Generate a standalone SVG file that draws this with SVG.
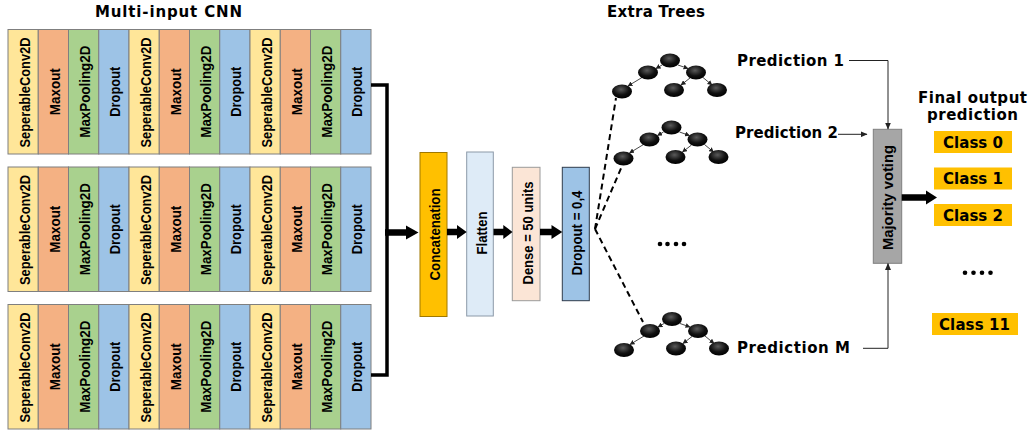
<svg xmlns="http://www.w3.org/2000/svg" width="1033" height="436" viewBox="0 0 1033 436">
<style>
.y{fill:#FFE699;stroke:#7F7F7F;stroke-width:1}
.o{fill:#F4B183;stroke:#7F7F7F;stroke-width:1}
.g{fill:#A9D18E;stroke:#7F7F7F;stroke-width:1}
.b{fill:#9DC3E6;stroke:#7F7F7F;stroke-width:1}
.lbl{font-family:"Liberation Sans",Arial,sans-serif;font-weight:bold;font-size:15.5px;fill:#000;text-anchor:middle}
.hd{font-family:"DejaVu Sans",Verdana,sans-serif;font-weight:bold;font-size:15px;fill:#000}
.cls{fill:#FFC000}
.thin{fill:none;stroke:#222;stroke-width:1}
.dash{fill:none;stroke:#000;stroke-width:2;stroke-dasharray:6 4}
.node{fill:url(#ng)}
.tedge{fill:none;stroke:#333;stroke-width:0.9;marker-end:url(#ta)}
.dot{fill:#000}
</style>
<defs>
<radialGradient id="ng" cx="45%" cy="35%" r="65%">
<stop offset="0" stop-color="#5a5a5a"/>
<stop offset="0.6" stop-color="#111"/>
<stop offset="1" stop-color="#000"/>
</radialGradient>
<marker id="ta" markerUnits="userSpaceOnUse" markerWidth="5" markerHeight="5" refX="4.5" refY="2.5" orient="auto">
<path d="M0,0 L5,2.5 L0,5 z" fill="#222"/>
</marker>
<marker id="pa" markerUnits="userSpaceOnUse" markerWidth="7" markerHeight="6" refX="6.5" refY="3" orient="auto">
<path d="M0,0 L7,3 L0,6 z" fill="#222"/>
</marker>
<g id="tree">
<path class="tedge" d="M-8,4.5 L-14,8"/>
<path class="tedge" d="M8,4.5 L18,8"/>
<path class="tedge" d="M-28,17 L-42,25.5"/>
<path class="tedge" d="M20,17.5 L11,24.5"/>
<path class="tedge" d="M33,17 L42,24.5"/>
<ellipse class="node" cx="0" cy="0" rx="10" ry="7"/>
<ellipse class="node" cx="-22" cy="12" rx="10" ry="7"/>
<ellipse class="node" cx="26" cy="12" rx="10" ry="7"/>
<ellipse class="node" cx="-48" cy="31" rx="10" ry="7"/>
<ellipse class="node" cx="4" cy="29.5" rx="10" ry="7"/>
<ellipse class="node" cx="47" cy="29.5" rx="10" ry="7"/>
</g>
</defs>
<rect width="1033" height="436" fill="#fff"/>

<text class="hd" x="168.5" y="17" text-anchor="middle" textLength="147">Multi-input CNN</text>
<text class="hd" x="656" y="17" text-anchor="middle" textLength="98">Extra Trees</text>
<text class="hd" x="972.5" y="102.5" text-anchor="middle" textLength="109">Final output</text>
<text class="hd" x="972.5" y="120" text-anchor="middle" textLength="91">prediction</text>

<g id="cnn1">
<rect class="y" x="8" y="29.5" width="30.25" height="124.5"/>
<rect class="o" x="38.25" y="29.5" width="30.25" height="124.5"/>
<rect class="g" x="68.5" y="29.5" width="30.25" height="124.5"/>
<rect class="b" x="98.75" y="29.5" width="30.25" height="124.5"/>
<rect class="y" x="129" y="29.5" width="30.25" height="124.5"/>
<rect class="o" x="159.25" y="29.5" width="30.25" height="124.5"/>
<rect class="g" x="189.5" y="29.5" width="30.25" height="124.5"/>
<rect class="b" x="219.75" y="29.5" width="30.25" height="124.5"/>
<rect class="y" x="250" y="29.5" width="30.25" height="124.5"/>
<rect class="o" x="280.25" y="29.5" width="30.25" height="124.5"/>
<rect class="g" x="310.5" y="29.5" width="30.25" height="124.5"/>
<rect class="b" x="340.75" y="29.5" width="30.25" height="124.5"/>
<text class="lbl" transform="translate(29.6,92.5) rotate(-90)" textLength="110" lengthAdjust="spacingAndGlyphs">SeperableConv2D</text>
<text class="lbl" transform="translate(59.9,91.7) rotate(-90)" textLength="47" lengthAdjust="spacingAndGlyphs">Maxout</text>
<text class="lbl" transform="translate(90.1,91.7) rotate(-90)" textLength="92" lengthAdjust="spacingAndGlyphs">MaxPooling2D</text>
<text class="lbl" transform="translate(120.4,91.7) rotate(-90)" textLength="50" lengthAdjust="spacingAndGlyphs">Dropout</text>
<text class="lbl" transform="translate(150.6,92.5) rotate(-90)" textLength="110" lengthAdjust="spacingAndGlyphs">SeperableConv2D</text>
<text class="lbl" transform="translate(180.9,91.7) rotate(-90)" textLength="47" lengthAdjust="spacingAndGlyphs">Maxout</text>
<text class="lbl" transform="translate(211.1,91.7) rotate(-90)" textLength="92" lengthAdjust="spacingAndGlyphs">MaxPooling2D</text>
<text class="lbl" transform="translate(241.4,91.7) rotate(-90)" textLength="50" lengthAdjust="spacingAndGlyphs">Dropout</text>
<text class="lbl" transform="translate(271.6,92.5) rotate(-90)" textLength="110" lengthAdjust="spacingAndGlyphs">SeperableConv2D</text>
<text class="lbl" transform="translate(301.9,91.7) rotate(-90)" textLength="47" lengthAdjust="spacingAndGlyphs">Maxout</text>
<text class="lbl" transform="translate(332.1,91.7) rotate(-90)" textLength="92" lengthAdjust="spacingAndGlyphs">MaxPooling2D</text>
<text class="lbl" transform="translate(362.4,91.7) rotate(-90)" textLength="50" lengthAdjust="spacingAndGlyphs">Dropout</text>
</g>

<g id="cnn2">
<rect class="y" x="8" y="167" width="30.25" height="124.5"/>
<rect class="o" x="38.25" y="167" width="30.25" height="124.5"/>
<rect class="g" x="68.5" y="167" width="30.25" height="124.5"/>
<rect class="b" x="98.75" y="167" width="30.25" height="124.5"/>
<rect class="y" x="129" y="167" width="30.25" height="124.5"/>
<rect class="o" x="159.25" y="167" width="30.25" height="124.5"/>
<rect class="g" x="189.5" y="167" width="30.25" height="124.5"/>
<rect class="b" x="219.75" y="167" width="30.25" height="124.5"/>
<rect class="y" x="250" y="167" width="30.25" height="124.5"/>
<rect class="o" x="280.25" y="167" width="30.25" height="124.5"/>
<rect class="g" x="310.5" y="167" width="30.25" height="124.5"/>
<rect class="b" x="340.75" y="167" width="30.25" height="124.5"/>
<text class="lbl" transform="translate(29.6,230) rotate(-90)" textLength="110" lengthAdjust="spacingAndGlyphs">SeperableConv2D</text>
<text class="lbl" transform="translate(59.9,229.2) rotate(-90)" textLength="47" lengthAdjust="spacingAndGlyphs">Maxout</text>
<text class="lbl" transform="translate(90.1,229.2) rotate(-90)" textLength="92" lengthAdjust="spacingAndGlyphs">MaxPooling2D</text>
<text class="lbl" transform="translate(120.4,229.2) rotate(-90)" textLength="50" lengthAdjust="spacingAndGlyphs">Dropout</text>
<text class="lbl" transform="translate(150.6,230) rotate(-90)" textLength="110" lengthAdjust="spacingAndGlyphs">SeperableConv2D</text>
<text class="lbl" transform="translate(180.9,229.2) rotate(-90)" textLength="47" lengthAdjust="spacingAndGlyphs">Maxout</text>
<text class="lbl" transform="translate(211.1,229.2) rotate(-90)" textLength="92" lengthAdjust="spacingAndGlyphs">MaxPooling2D</text>
<text class="lbl" transform="translate(241.4,229.2) rotate(-90)" textLength="50" lengthAdjust="spacingAndGlyphs">Dropout</text>
<text class="lbl" transform="translate(271.6,230) rotate(-90)" textLength="110" lengthAdjust="spacingAndGlyphs">SeperableConv2D</text>
<text class="lbl" transform="translate(301.9,229.2) rotate(-90)" textLength="47" lengthAdjust="spacingAndGlyphs">Maxout</text>
<text class="lbl" transform="translate(332.1,229.2) rotate(-90)" textLength="92" lengthAdjust="spacingAndGlyphs">MaxPooling2D</text>
<text class="lbl" transform="translate(362.4,229.2) rotate(-90)" textLength="50" lengthAdjust="spacingAndGlyphs">Dropout</text>
</g>

<g id="cnn3">
<rect class="y" x="8" y="304.5" width="30.25" height="124.5"/>
<rect class="o" x="38.25" y="304.5" width="30.25" height="124.5"/>
<rect class="g" x="68.5" y="304.5" width="30.25" height="124.5"/>
<rect class="b" x="98.75" y="304.5" width="30.25" height="124.5"/>
<rect class="y" x="129" y="304.5" width="30.25" height="124.5"/>
<rect class="o" x="159.25" y="304.5" width="30.25" height="124.5"/>
<rect class="g" x="189.5" y="304.5" width="30.25" height="124.5"/>
<rect class="b" x="219.75" y="304.5" width="30.25" height="124.5"/>
<rect class="y" x="250" y="304.5" width="30.25" height="124.5"/>
<rect class="o" x="280.25" y="304.5" width="30.25" height="124.5"/>
<rect class="g" x="310.5" y="304.5" width="30.25" height="124.5"/>
<rect class="b" x="340.75" y="304.5" width="30.25" height="124.5"/>
<text class="lbl" transform="translate(29.6,367.5) rotate(-90)" textLength="110" lengthAdjust="spacingAndGlyphs">SeperableConv2D</text>
<text class="lbl" transform="translate(59.9,366.7) rotate(-90)" textLength="47" lengthAdjust="spacingAndGlyphs">Maxout</text>
<text class="lbl" transform="translate(90.1,366.7) rotate(-90)" textLength="92" lengthAdjust="spacingAndGlyphs">MaxPooling2D</text>
<text class="lbl" transform="translate(120.4,366.7) rotate(-90)" textLength="50" lengthAdjust="spacingAndGlyphs">Dropout</text>
<text class="lbl" transform="translate(150.6,367.5) rotate(-90)" textLength="110" lengthAdjust="spacingAndGlyphs">SeperableConv2D</text>
<text class="lbl" transform="translate(180.9,366.7) rotate(-90)" textLength="47" lengthAdjust="spacingAndGlyphs">Maxout</text>
<text class="lbl" transform="translate(211.1,366.7) rotate(-90)" textLength="92" lengthAdjust="spacingAndGlyphs">MaxPooling2D</text>
<text class="lbl" transform="translate(241.4,366.7) rotate(-90)" textLength="50" lengthAdjust="spacingAndGlyphs">Dropout</text>
<text class="lbl" transform="translate(271.6,367.5) rotate(-90)" textLength="110" lengthAdjust="spacingAndGlyphs">SeperableConv2D</text>
<text class="lbl" transform="translate(301.9,366.7) rotate(-90)" textLength="47" lengthAdjust="spacingAndGlyphs">Maxout</text>
<text class="lbl" transform="translate(332.1,366.7) rotate(-90)" textLength="92" lengthAdjust="spacingAndGlyphs">MaxPooling2D</text>
<text class="lbl" transform="translate(362.4,366.7) rotate(-90)" textLength="50" lengthAdjust="spacingAndGlyphs">Dropout</text>
</g>

<g id="concat">
<rect x="420" y="152.5" width="27" height="164" fill="#FFC000" stroke="#A07800" stroke-width="1"/>
<text class="lbl" transform="translate(440,234.5) rotate(-90)" textLength="92" lengthAdjust="spacingAndGlyphs">Concatenation</text>
</g>
<g id="flatten">
<rect x="466.7" y="152" width="26.6" height="164" fill="#DEEBF7" stroke="#8C99A8" stroke-width="1"/>
<text class="lbl" transform="translate(486.5,233) rotate(-90)" textLength="43" lengthAdjust="spacingAndGlyphs" font-weight="normal">Flatten</text>
</g>
<g id="dense">
<rect x="512.3" y="167.3" width="27.7" height="133.4" fill="#FBE5D6" stroke="#9A9A9A" stroke-width="1"/>
<text class="lbl" transform="translate(533,233) rotate(-90)" textLength="103" lengthAdjust="spacingAndGlyphs">Dense = 50 units</text>
</g>
<g id="dropout">
<rect x="562.3" y="167.3" width="27" height="133.4" fill="#9DC3E6" stroke="#2F3B4C" stroke-width="1"/>
<text class="lbl" transform="translate(582.3,233) rotate(-90)" textLength="85" lengthAdjust="spacingAndGlyphs">Dropout = 0,4</text>
</g>

<g id="tree1"><use href="#tree" x="670" y="60.5"/></g>
<g id="tree2"><use href="#tree" x="671.5" y="127.5"/></g>
<g id="tree3"><use href="#tree" x="672" y="319"/></g>
<g id="tree-dots">
<circle class="dot" cx="660" cy="244" r="2.3"/>
<circle class="dot" cx="667.5" cy="244" r="2.3"/>
<circle class="dot" cx="676" cy="244" r="2.3"/>
<circle class="dot" cx="684" cy="244" r="2.3"/>
</g>

<g id="pred1"><text class="hd" x="737" y="66" textLength="107">Prediction 1</text></g>
<g id="pred2"><text class="hd" x="735" y="138" textLength="103">Prediction 2</text></g>
<g id="predM"><text class="hd" x="737" y="352.5" textLength="113">Prediction M</text></g>

<g id="majority">
<rect x="873.3" y="129.3" width="28.4" height="134" fill="#A6A6A6" stroke="#7F7F7F" stroke-width="1"/>
<text class="lbl" transform="translate(893,197.5) rotate(-90)" textLength="105" lengthAdjust="spacingAndGlyphs">Majority voting</text>
</g>

<g id="class0"><rect class="cls" x="934" y="131" width="78" height="22"/><text class="hd" x="973" y="147.7" text-anchor="middle" textLength="60">Class 0</text></g>
<g id="class1"><rect class="cls" x="934" y="167.5" width="78" height="22"/><text class="hd" x="973" y="184.3" text-anchor="middle" textLength="60">Class 1</text></g>
<g id="class2"><rect class="cls" x="934" y="204" width="78" height="22"/><text class="hd" x="973" y="220.7" text-anchor="middle" textLength="60">Class 2</text></g>
<g id="class11"><rect class="cls" x="932" y="313" width="86" height="22"/><text class="hd" x="974.5" y="330" text-anchor="middle" textLength="71">Class 11</text></g>
<g id="class-dots">
<circle class="dot" cx="965" cy="272.7" r="2.3"/>
<circle class="dot" cx="973.5" cy="272.7" r="2.3"/>
<circle class="dot" cx="982" cy="272.7" r="2.3"/>
<circle class="dot" cx="990.5" cy="272.7" r="2.3"/>
</g>

<g id="connectors">
<polyline points="371,85 387,85 387,375 371,375" fill="none" stroke="#000" stroke-width="3.5" stroke-linejoin="miter"/>
<polygon points="385,229.2 406,229.2 406,225.5 418.5,232.5 406,239.5 406,235.8 385,235.8" fill="#000"/>
<polygon points="447,228.7 457,228.7 457,225 466.7,232 457,239 457,235.3 447,235.3" fill="#000"/>
<polygon points="493.5,228.7 503.3,228.7 503.3,225 512.5,232 503.3,239 503.3,235.3 493.5,235.3" fill="#000"/>
<polygon points="540,228.7 551.5,228.7 551.5,225 562.3,232 551.5,239 551.5,235.3 540,235.3" fill="#000"/>
<path class="dash" d="M595,229 L616,98"/>
<path class="dash" d="M595,229 L622,166"/>
<path class="dash" d="M595,229 L643,322"/>
<path class="thin" d="M849,60.5 L888,60.5 L888,129" marker-end="url(#pa)"/>
<path class="thin" d="M838,134.3 L867,134.3" marker-end="url(#pa)"/>
<path class="thin" d="M863,348.3 L888,348.3 L888,263.5" marker-end="url(#pa)"/>
<polygon points="901.7,194.2 926,194.2 926,190.5 937,197.5 926,204.5 926,200.8 901.7,200.8" fill="#000"/>
</g>
</svg>
